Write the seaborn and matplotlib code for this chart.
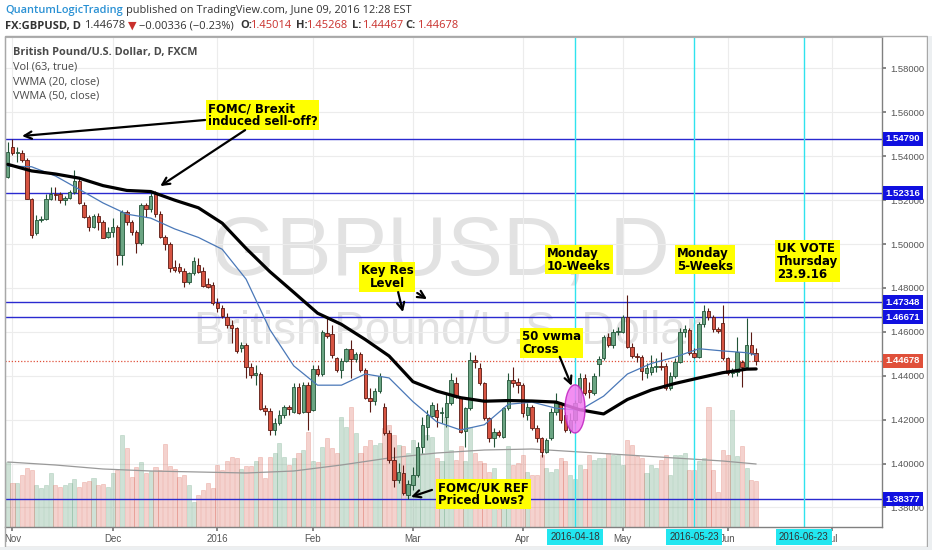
import numpy as np
import pandas as pd
import matplotlib
matplotlib.use("Agg")
import matplotlib.pyplot as plt
import seaborn as sns
from matplotlib.patches import Ellipse, Rectangle
from matplotlib.transforms import blended_transform_factory

sns.set_theme(style="white")
plt.rcParams['font.family'] = ['Liberation Sans', 'DejaVu Sans']

# ---- daily GBPUSD bars (Oct 30 2015 .. Jun 09 2016) ----
opens = [
    1.5306, 1.5443, 1.5413, 1.5416, 1.5382, 1.5207, 1.5048, 1.5111, 1.5116, 1.5204,
    1.5230, 1.5226, 1.5200, 1.5211, 1.5235, 1.5287, 1.5177, 1.5124, 1.5079, 1.5129,
    1.5099, 1.5033, 1.5056, 1.5079, 1.4950, 1.5144, 1.5102, 1.5053, 1.5003, 1.5177,
    1.5159, 1.5230, 1.5139, 1.5033, 1.4998, 1.4897, 1.4897, 1.4878, 1.4825, 1.4866,
    1.4904, 1.4877, 1.4816, 1.4813, 1.4730, 1.4710, 1.4669, 1.4631, 1.4616, 1.4525,
    1.4540, 1.4441, 1.4403, 1.4406, 1.4252, 1.4239, 1.4153, 1.4186, 1.4221, 1.4259,
    1.4233, 1.4350, 1.4233, 1.4358, 1.4244, 1.4431, 1.4406, 1.4593, 1.4588, 1.4479,
    1.4426, 1.4467, 1.4520, 1.4475, 1.4497, 1.4426, 1.4300, 1.4285, 1.4330, 1.4259,
    1.4138, 1.4016, 1.3925, 1.3956, 1.3857, 1.3902, 1.3948, 1.4077, 1.4168, 1.4217,
    1.4244, 1.4229, 1.4214, 1.4274, 1.4365, 1.4297, 1.4150, 1.4252, 1.4472, 1.4434,
    1.4365, 1.4206, 1.4115, 1.4145, 1.4123, 1.4252, 1.4381, 1.4373, 1.4358, 1.4221,
    1.4259, 1.4160, 1.4115, 1.4054, 1.4115, 1.4236, 1.4274, 1.4221, 1.4153, 1.4200,
    1.4282, 1.4391, 1.4335, 1.4320, 1.4455, 1.4479, 1.4578, 1.4540, 1.4601, 1.4601,
    1.4669, 1.4532, 1.4491, 1.4484, 1.4411, 1.4418, 1.4438, 1.4446, 1.4446, 1.4343,
    1.4400, 1.4461, 1.4601, 1.4608, 1.4502, 1.4487, 1.4634, 1.4695, 1.4669, 1.4613,
    1.4639, 1.4479, 1.4411, 1.4418, 1.4461, 1.4441, 1.4540, 1.45014,
]
highs = [
    1.5466, 1.5479, 1.5443, 1.5428, 1.5390, 1.5210, 1.5131, 1.5128, 1.5230, 1.5260,
    1.5260, 1.5238, 1.5220, 1.5246, 1.5337, 1.5299, 1.5193, 1.5132, 1.5135, 1.5140,
    1.5109, 1.5079, 1.5117, 1.5086, 1.5155, 1.5155, 1.5109, 1.5064, 1.5189, 1.5185,
    1.5238, 1.5241, 1.5150, 1.5041, 1.5008, 1.4927, 1.4912, 1.4889, 1.4874, 1.4942,
    1.4935, 1.4897, 1.4843, 1.4828, 1.4752, 1.4722, 1.4684, 1.4654, 1.4623, 1.4555,
    1.4548, 1.4457, 1.4449, 1.4418, 1.4267, 1.4252, 1.4206, 1.4244, 1.4267, 1.4267,
    1.4365, 1.4365, 1.4373, 1.4373, 1.4449, 1.4449, 1.4608, 1.4664, 1.4631, 1.4487,
    1.4479, 1.4528, 1.4563, 1.4510, 1.4510, 1.4434, 1.4343, 1.4343, 1.4411, 1.4274,
    1.4153, 1.4077, 1.4001, 1.3993, 1.3925, 1.3986, 1.4100, 1.4214, 1.4244, 1.4282,
    1.4274, 1.4259, 1.4320, 1.4411, 1.4396, 1.4305, 1.4259, 1.4510, 1.4494, 1.4457,
    1.4373, 1.4214, 1.4161, 1.4153, 1.4259, 1.4411, 1.4441, 1.4388, 1.4365, 1.4274,
    1.4267, 1.4176, 1.4123, 1.4115, 1.4252, 1.4320, 1.4282, 1.4236, 1.4230, 1.4290,
    1.4411, 1.4406, 1.4373, 1.4411, 1.4490, 1.4586, 1.4593, 1.4613, 1.4623, 1.4677,
    1.4768, 1.4548, 1.4502, 1.4494, 1.4456, 1.4494, 1.4479, 1.4510, 1.4456, 1.4418,
    1.4479, 1.4616, 1.4631, 1.4616, 1.4525, 1.4646, 1.4722, 1.4707, 1.4677, 1.4623,
    1.4722, 1.4487, 1.4434, 1.4578, 1.4472, 1.4661, 1.4601, 1.45268,
]
lows = [
    1.5302, 1.5405, 1.5375, 1.5372, 1.5204, 1.5027, 1.5040, 1.5100, 1.5108, 1.5200,
    1.5200, 1.5185, 1.5177, 1.5204, 1.5230, 1.5181, 1.5117, 1.5059, 1.5071, 1.5064,
    1.5026, 1.5026, 1.5033, 1.4904, 1.4904, 1.5086, 1.5041, 1.4957, 1.4995, 1.5124,
    1.5147, 1.5124, 1.5026, 1.4973, 1.4874, 1.4874, 1.4866, 1.4806, 1.4816, 1.4859,
    1.4866, 1.4806, 1.4798, 1.4722, 1.4692, 1.4661, 1.4616, 1.4548, 1.4502, 1.4510,
    1.4388, 1.4391, 1.4358, 1.4244, 1.4221, 1.4130, 1.4130, 1.4176, 1.4209, 1.4221,
    1.4229, 1.4224, 1.4229, 1.4153, 1.4239, 1.4400, 1.4400, 1.4570, 1.4479, 1.4415,
    1.4388, 1.4461, 1.4388, 1.4464, 1.4419, 1.4294, 1.4236, 1.4267, 1.4320, 1.4130,
    1.4001, 1.3895, 1.3910, 1.3857, 1.3838, 1.3880, 1.3940, 1.4047, 1.4107, 1.4214,
    1.4168, 1.4183, 1.4168, 1.4267, 1.4297, 1.4138, 1.4077, 1.4244, 1.4434, 1.4358,
    1.4198, 1.4100, 1.4077, 1.4123, 1.4115, 1.4244, 1.4350, 1.4320, 1.4214, 1.4198,
    1.4153, 1.4100, 1.4031, 1.4047, 1.4107, 1.4221, 1.4183, 1.4145, 1.4140, 1.4185,
    1.4274, 1.4312, 1.4300, 1.4312, 1.4400, 1.4472, 1.4532, 1.4528, 1.4586, 1.4593,
    1.4525, 1.4479, 1.4464, 1.4381, 1.4388, 1.4403, 1.4418, 1.4426, 1.4335, 1.4335,
    1.4388, 1.4456, 1.4578, 1.4494, 1.4479, 1.4479, 1.4623, 1.4654, 1.4601, 1.4593,
    1.4472, 1.4403, 1.4396, 1.4400, 1.4350, 1.4434, 1.4494, 1.44467,
]
closes = [
    1.5420, 1.5413, 1.5417, 1.5382, 1.5207, 1.5042, 1.5111, 1.5116, 1.5204, 1.5230,
    1.5222, 1.5200, 1.5211, 1.5235, 1.5287, 1.5185, 1.5124, 1.5079, 1.5129, 1.5102,
    1.5029, 1.5056, 1.5079, 1.4950, 1.5144, 1.5102, 1.5053, 1.5003, 1.5177, 1.5159,
    1.5218, 1.5139, 1.5033, 1.4998, 1.4892, 1.4881, 1.4878, 1.4825, 1.4866, 1.4922,
    1.4874, 1.4810, 1.4806, 1.4730, 1.4710, 1.4673, 1.4631, 1.4616, 1.4513, 1.4540,
    1.4441, 1.4403, 1.4411, 1.4249, 1.4239, 1.4153, 1.4186, 1.4221, 1.4259, 1.4249,
    1.4350, 1.4229, 1.4358, 1.4236, 1.4431, 1.4406, 1.4601, 1.4582, 1.4494, 1.4426,
    1.4467, 1.4520, 1.4475, 1.4497, 1.4426, 1.4300, 1.4285, 1.4330, 1.4400, 1.4138,
    1.4016, 1.3925, 1.3963, 1.3864, 1.3907, 1.3948, 1.4077, 1.4176, 1.4221, 1.4267,
    1.4214, 1.4236, 1.4274, 1.4381, 1.4305, 1.4145, 1.4252, 1.4472, 1.4464, 1.4365,
    1.4206, 1.4115, 1.4145, 1.4130, 1.4252, 1.4381, 1.4365, 1.4358, 1.4229, 1.4259,
    1.4160, 1.4115, 1.4054, 1.4107, 1.4236, 1.4274, 1.4198, 1.4153, 1.4200, 1.4275,
    1.4391, 1.4320, 1.4324, 1.4400, 1.4475, 1.4578, 1.4540, 1.4601, 1.4604, 1.4669,
    1.4532, 1.4491, 1.4484, 1.4421, 1.4437, 1.4438, 1.4446, 1.4440, 1.4343, 1.4400,
    1.4461, 1.4601, 1.4613, 1.4502, 1.4487, 1.4634, 1.4695, 1.4669, 1.4613, 1.4604,
    1.4479, 1.4411, 1.4418, 1.4510, 1.4441, 1.4540, 1.45014, 1.44678,
]
volumes = [
    65, 44, 44, 52, 59, 57, 42, 39, 42, 54,
    42, 40, 42, 44, 48, 40, 45, 46, 49, 42,
    43, 40, 54, 57, 92, 79, 50, 60, 65, 54,
    56, 60, 57, 83, 61, 58, 50, 52, 42, 25,
    32, 37, 44, 39, 62, 57, 66, 70, 69, 58,
    61, 61, 66, 70, 49, 70, 74, 84, 70, 62,
    69, 74, 77, 95, 66, 65, 80, 89, 79, 74,
    110, 100, 120, 94, 74, 81, 87, 82, 84, 99,
    102, 92, 82, 81, 74, 87, 79, 74, 92, 90,
    69, 66, 110, 77, 67, 81, 66, 100, 74, 66,
    64, 55, 59, 18, 48, 81, 62, 64, 72, 55,
    52, 52, 72, 59, 55, 58, 69, 66, 52, 48,
    62, 58, 72, 67, 69, 69, 74, 72, 72, 62,
    87, 82, 71, 69, 54, 62, 59, 67, 72, 52,
    72, 72, 74, 57, 57, 66, 69, 120, 57, 35,
    77, 72, 117, 71, 81, 59, 47, 46,
]

# indicator lines read every 5th bar (last value = last bar)
vwma20 = [1.5355, 1.5352, 1.5310, 1.5249, 1.5187, 1.5136, 1.5118, 1.5069, 1.5030,
          1.4976, 1.4840, 1.4610, 1.4445, 1.4357, 1.4357, 1.4408, 1.4390, 1.4282,
          1.4190, 1.4153, 1.4177, 1.4270, 1.4280, 1.4252, 1.4243, 1.4307, 1.4408,
          1.4456, 1.4485, 1.4523, 1.4513, 1.4505, 1.4494]
vwma50 = [1.5363, 1.5333, 1.5319, 1.5300, 1.5266, 1.5244, 1.5239, 1.5200, 1.5165,
          1.5095, 1.4980, 1.4874, 1.4780, 1.4685, 1.4634, 1.4565, 1.4490, 1.4373,
          1.4330, 1.4300, 1.4284, 1.4287, 1.4285, 1.4280, 1.4245, 1.4226, 1.4292,
          1.4335, 1.4365, 1.4390, 1.4414, 1.4430, 1.4431]
# volume MA(63) read every 10th bar
vol_ma = [65, 62, 58, 56, 55, 54, 56, 62, 69, 74, 77, 78, 75, 72, 69, 66, 63]

key_levels = [1.54790, 1.52316, 1.47348, 1.46671, 1.38377]
marked_days = ["2016-04-18", "2016-05-23", "2016-06-23"]
month_days = ["2015-11-02", "2015-12-01", "2016-01-04", "2016-02-01", "2016-03-01",
              "2016-04-01", "2016-05-02", "2016-06-01", "2016-07-01"]
month_labels = ["Nov", "Dec", "2016", "Feb", "Mar", "Apr", "May", "Jun", "Jul"]
price_ticks = [1.38, 1.40, 1.42, 1.44, 1.46, 1.48, 1.50, 1.52, 1.54, 1.56, 1.58]

# trading calendar (bar slots), also used for the empty future part
holidays = pd.to_datetime(["2015-12-25", "2016-01-01"])
cal = pd.bdate_range("2015-10-30", "2016-07-29")
cal = cal[~cal.isin(holidays)]
slot = pd.Series(np.arange(len(cal)), index=cal)

df = pd.DataFrame({"open": opens, "high": highs, "low": lows, "close": closes,
                   "volume": volumes}, index=cal[:len(opens)])
df["x"] = slot[df.index].values
n = len(df)
vw_x = list(range(0, n, 5)) + [n - 1]
vm_x = list(range(0, n, 10)) + [n - 1]

W, H = 932, 550
fig = plt.figure(figsize=(W / 100, H / 100), dpi=100)
fig.patch.set_facecolor("white")
ax = fig.add_axes([5 / W, 1 - 527 / H, 877 / W, 490 / H])
ax.set_facecolor("white")
ax.set_xlim(-0.57, 183.4)
ax.set_ylim(1.3711, 1.5943)

vt = blended_transform_factory(ax.transData, ax.transAxes)
yt = blended_transform_factory(ax.transAxes, ax.transData)

# watermark
ax.text(0.497, 0.561, "GBPUSD, D", transform=ax.transAxes, fontsize=60,
        color="#e2e2e2", ha="center", va="center", zorder=0.5)
ax.text(0.505, 0.398, "British Pound/U.S. Dollar", transform=ax.transAxes,
        fontsize=33, color="#e2e2e2", ha="center", va="center", zorder=0.5)

# grid
ax.grid(True, color="#ececec", lw=0.8)
ax.set_axisbelow(True)

# volume overlay (pane height = 490 volume units)
up = df["close"] >= df["open"]
ax.bar(df["x"][up], df["volume"][up] / 490, width=0.85, bottom=0,
       color=(0.42, 0.647, 0.514, 0.33), edgecolor=(0.42, 0.647, 0.514, 0.45),
       lw=0.4, transform=vt, zorder=1)
ax.bar(df["x"][~up], df["volume"][~up] / 490, width=0.85, bottom=0,
       color=(0.843, 0.329, 0.259, 0.26), edgecolor=(0.843, 0.329, 0.259, 0.38),
       lw=0.4, transform=vt, zorder=1)
ax.plot(vm_x, np.array(vol_ma) / 490, color="#999999", lw=0.9, transform=vt, zorder=1.5)

# level lines
for lvl in key_levels:
    ax.axhline(lvl, color="#2a2ad0", lw=1, zorder=2)
ax.axhline(closes[-1], color="#e0503a", lw=0.9, ls=(0, (1, 1.5)), zorder=2)
for d in marked_days:
    ax.axvline(slot[pd.Timestamp(d)], color="#2fe3ee", lw=1, zorder=2)

# candles
for mask, fill, edge in [(up, "#6ba583", "#225437"), (~up, "#d75442", "#5b1a13")]:
    d = df[mask]
    ax.vlines(d["x"], d["low"], d["high"], color=edge, lw=0.8, zorder=3)
    body = (d["close"] - d["open"]).abs().clip(lower=0.00012)
    ax.bar(d["x"], body, bottom=d[["open", "close"]].min(axis=1), width=0.72,
           color=fill, edgecolor=edge, lw=0.6, zorder=4)

# VWMA lines
sns.lineplot(x=vw_x, y=vwma20, ax=ax, color="#4a78b8", lw=0.9, zorder=5)
sns.lineplot(x=vw_x, y=vwma50, ax=ax, color="black", lw=2.3, zorder=5)

# cross marker
ax.add_patch(Ellipse((slot[pd.Timestamp("2016-04-18")], 1.4249), 4.2, 0.0219,
                     fc="#f07af0", ec="#c020c0", lw=1, alpha=0.85, zorder=6))

# notes
notes = [
    ("FOMC/ Brexit\ninduced sell-off?", 42.0, 1.5587, "left"),
    ("Key Res\nLevel", 79.6, 1.4850, "center"),
    ("Monday\n10-Weeks", 113.1, 1.4929, "left"),
    ("Monday\n5-Weeks", 140.4, 1.4929, "left"),
    ("UK VOTE\nThursday\n23.9.16", 161.4, 1.4922, "left"),
    ("50 vwma\nCross", 107.9, 1.4549, "left"),
    ("FOMC/UK REF\nPriced Lows?", 90.3, 1.3861, "left"),
]
for txt, nx, ny, al in notes:
    ax.text(nx, ny, txt, ha=al, va="center", multialignment=al, fontsize=8.5,
            family="DejaVu Sans", weight="bold", color="black", linespacing=1.0,
            bbox=dict(boxstyle="square,pad=0.15", fc="#ffff00", ec="none"), zorder=8)

arrows = [
    ((41.4, 1.5565), (3.0, 1.5492)),
    ((49.8, 1.5519), (32.0, 1.5264)),
    ((81.9, 1.4781), (82.9, 1.4690)),
    ((85.9, 1.4777), (87.95, 1.4749)),
    ((115.8, 1.4486), (118.3, 1.4354)),
    ((89.0, 1.3880), (84.6, 1.3848)),
]
for (tx, ty), (hx, hy) in arrows:
    ax.annotate("", xy=(hx, hy), xytext=(tx, ty), zorder=8,
                arrowprops=dict(arrowstyle="->", color="black", lw=1.6,
                                mutation_scale=13, shrinkA=0, shrinkB=0))

# axes styling
for side in ["left", "top"]:
    ax.spines[side].set_color("#b0b0b0")
    ax.spines[side].set_linewidth(0.8)
for side in ["right", "bottom"]:
    ax.spines[side].set_color("#808080")
    ax.spines[side].set_linewidth(1)

ax.yaxis.tick_right()
ax.set_yticks(price_ticks)
ax.set_yticklabels([f"{v:.5f}" for v in price_ticks])
ax.tick_params(axis="y", right=True, left=False, direction="out", length=3, pad=3,
               colors="#777777", labelcolor="#555555", labelsize=6.8)
ax.set_xticks([slot[pd.Timestamp(d)] for d in month_days])
ax.set_xticklabels(month_labels)
ax.tick_params(axis="x", bottom=True, direction="out", length=3, pad=2,
               colors="#777777", labelcolor="#555555", labelsize=7)
ax.set_xlabel("")
ax.set_ylabel("")

# price tags on the right axis
for lvl in key_levels:
    ax.text(1.004, lvl, f"{lvl:.5f}", transform=yt, ha="left", va="center",
            fontsize=6.8, color="white", weight="bold", clip_on=False, zorder=10,
            bbox=dict(boxstyle="square,pad=0.28", fc="#1010e0", ec="none"))
ax.text(1.004, closes[-1], f"{closes[-1]:.5f}", transform=yt, ha="left", va="center",
        fontsize=6.8, color="white", weight="bold", clip_on=False, zorder=10,
        bbox=dict(boxstyle="square,pad=0.28", fc="#e0503a", ec="none"))

# date tags on the time axis
for d in marked_days:
    ax.text(slot[pd.Timestamp(d)], -0.0205, d, transform=vt, ha="center", va="center",
            fontsize=7, color="#333333", clip_on=False, zorder=10,
            bbox=dict(boxstyle="square,pad=0.3", fc="#22e6f0", ec="none"))

# outer frame and light border strips
fig.patches.append(Rectangle((5 / W, 1 - 547 / H), 922 / W, 511 / H, transform=fig.transFigure,
                             fill=False, ec="#a8a8a8", lw=1, zorder=0))
fig.patches.append(Rectangle((0, 0), 1, 3 / H, transform=fig.transFigure,
                             fc="#eceff1", ec="none", zorder=0))
fig.patches.append(Rectangle((928 / W, 0), 4 / W, 1 - 36 / H, transform=fig.transFigure,
                             fc="#eceff1", ec="none", zorder=0))


def ftext(px, py, s, **kw):
    kw.setdefault("family", ["Open Sans", "DejaVu Sans"])
    kw.setdefault("fontsize", 8)
    kw.setdefault("color", "#333333")
    return fig.text(px / W, 1 - py / H, s, va="center", ha="left", **kw)


red = "#c9302c"
chg = closes[-1] - closes[-2]
author = ftext(5, 10, "QuantumLogicTrading", color="#2a91d4", weight="semibold", fontsize=7.9)
ax.annotate("published on TradingView.com, June 09, 2016 12:28 EST", xy=(1, 0.5),
            xycoords=author, xytext=(2.5, 0), textcoords="offset points",
            va="center", ha="left", fontsize=7.9, color="#333333",
            family=["Open Sans", "DejaVu Sans"], annotation_clip=False)
ftext(5, 26, "FX:GBPUSD, D", weight="bold")
ftext(84, 26, f"{closes[-1]:.5f}")
ftext(128, 26, "\u25bc", color=red, family=["DejaVu Sans"], fontsize=8)
ftext(139, 26, f"\u2212{abs(chg):.5f} (\u2212{abs(chg) / closes[-2] * 100:.2f}%)")
for lab, val, px in [("O:", opens[-1], 240), ("H:", highs[-1], 296),
                     ("L:", lows[-1], 352), ("C:", closes[-1], 405)]:
    ftext(px, 26, lab, weight="bold")
    ftext(px + (10 if lab != "C:" else 12), 26, f"{val:.5f}", color=red)

legend_lines = ["British Pound/U.S. Dollar, D, FXCM", "Vol (63, true)",
                "VWMA (20, close)", "VWMA (50, close)"]
for i, s in enumerate(legend_lines):
    ftext(13, 53 + i * 14.4, s, color="#4a4a4a", fontsize=7.8,
          weight="bold" if i == 0 else "normal")

fig.savefig("out.png", dpi=100)
